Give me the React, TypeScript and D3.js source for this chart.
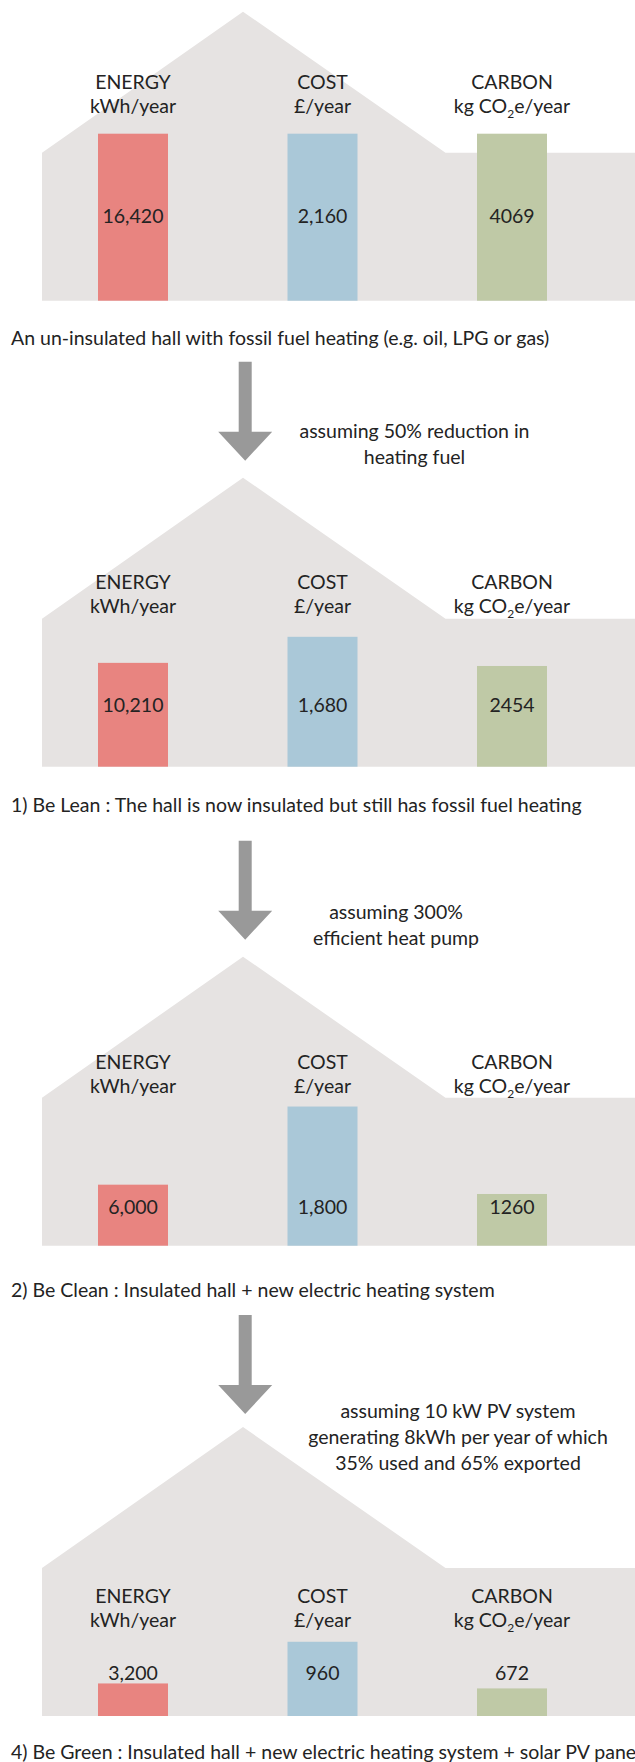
import React from "react";
import * as d3 from "d3";

// metric columns
const metrics = ["ENERGY", "COST", "CARBON"];
const units = ["kWh/year", "£/year", "kg CO|2|e/year"]; // |2| marks the subscript

// one entry per stage (house)
const captions = [
  "An un-insulated hall with fossil fuel heating (e.g. oil, LPG or gas)",
  "1) Be Lean : The hall is now insulated but still has fossil fuel heating",
  "2) Be Clean : Insulated hall + new electric heating system",
  "4) Be Green : Insulated hall + new electric heating system + solar PV panels",
];
const energyValues = [16420, 10210, 6000, 3200];
const costValues = [2160, 1680, 1800, 960];
const carbonValues = [4069, 2454, 1260, 672];

// notes beside the arrow leading into each stage
const assumptions = [
  [],
  ["assuming 50% reduction in", "heating fuel"],
  ["assuming 300%", "efficient heat pump"],
  ["assuming 10 kW PV system", "generating 8kWh per year of which", "35% used and 65% exported"],
];

const W = 635;
const H = 1762;
const FONT = "Lato, 'Open Sans', sans-serif";
const TEXT = "#232323";
const HOUSE = "#e6e3e2";
const COLORS = ["#e88480", "#aac8d8", "#bfc9a6"];

// per-panel layout (ground line, header rows, value row, caption, note block)
const layout = [
  { base: 300.7, head: 89.3, value: 222.7, caption: 345, noteX: 0, noteY: 0 },
  { base: 766.7, head: 589.3, value: 711.7, caption: 812.3, noteX: 414.5, noteY: 438.3 },
  { base: 1245.7, head: 1069.4, value: 1213.5, caption: 1296.7, noteX: 396, noteY: 919.3 },
  { base: 1716, head: 1603.4, value: 1680, caption: 1759, noteX: 458, noteY: 1418.3 },
];

const series = [energyValues, costValues, carbonValues];
const formats = [d3.format(","), d3.format(","), d3.format("d")];

const x = d3.scalePoint<string>().domain(metrics).range([133, 512]);
const barW = 70;
const heights = series.map((vals) =>
  d3.scaleLinear().domain([0, d3.max(vals) as number]).range([0, 167])
);

const housePath = (b: number) => {
  const p = d3.path();
  p.moveTo(42, b);
  p.lineTo(42, b - 148);
  p.lineTo(243, b - 289);
  p.lineTo(445.5, b - 148);
  p.lineTo(W, b - 148);
  p.lineTo(W, b);
  p.closePath();
  return p.toString();
};

const arrowPath = (tip: number) => {
  const cx = 245.2;
  const p = d3.path();
  p.moveTo(cx - 6.5, tip - 99);
  p.lineTo(cx + 6.5, tip - 99);
  p.lineTo(cx + 6.5, tip - 29);
  p.lineTo(cx + 27, tip - 29);
  p.lineTo(cx, tip);
  p.lineTo(cx - 27, tip - 29);
  p.lineTo(cx - 6.5, tip - 29);
  p.closePath();
  return p.toString();
};

const UnitLabel = ({ text, x, y }: { text: string; x: number; y: number }) => {
  const parts = text.split("|");
  return (
    <text x={x} y={y} textAnchor="middle">
      {parts.map((s, i) =>
        i % 2 === 1 ? (
          <tspan key={i} fontSize={12} dy={5}>
            {s}
          </tspan>
        ) : (
          <tspan key={i} dy={i > 0 ? -5 : 0}>
            {s}
          </tspan>
        )
      )}
    </text>
  );
};

const Panel = ({ i }: { i: number }) => {
  const L = layout[i];
  const b = L.base;
  return (
    <g>
      {i > 0 && <path d={arrowPath(b - 289 - (i === 3 ? 13 : 17))} fill="#999999" />}
      {assumptions[i].map((line, k) => (
        <text key={k} x={L.noteX} y={L.noteY + k * 26} textAnchor="middle">
          {line}
        </text>
      ))}
      <path d={housePath(b)} fill={HOUSE} />
      {metrics.map((m, j) => {
        const v = series[j][i];
        const h = heights[j](v);
        const cx = x(m) as number;
        return (
          <g key={m}>
            <text x={cx} y={L.head} textAnchor="middle">
              {m}
            </text>
            <UnitLabel text={units[j]} x={cx} y={L.head + 24} />
            <rect x={cx - barW / 2} y={b - h} width={barW} height={h} fill={COLORS[j]} />
            <text x={cx} y={L.value} textAnchor="middle">
              {formats[j](v)}
            </text>
          </g>
        );
      })}
      <text x={11} y={L.caption}>
        {captions[i]}
      </text>
    </g>
  );
};

export default function App() {
  return (
    <div style={{ position: "absolute", left: 0, top: 0, width: W, height: H, background: "#fff" }}>
      <svg width={W} height={H} style={{ display: "block" }} fontFamily={FONT} fontSize={19.5} fill={TEXT}>
        {captions.map((_, i) => (
          <Panel key={i} i={i} />
        ))}
      </svg>
    </div>
  );
}
